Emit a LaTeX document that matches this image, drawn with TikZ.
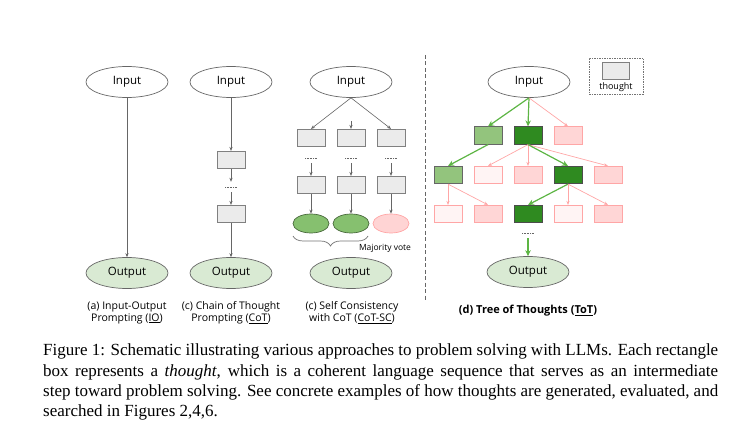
\documentclass[tikz,border=0pt]{standalone}
\usepackage{fontspec}
\setmainfont{Liberation Serif}
\newfontfamily\diagfont{Open Sans}
\usetikzlibrary{shapes.geometric,decorations.pathreplacing,arrows.meta}
\definecolor{boxgray}{HTML}{EBEBEB}
\definecolor{outgreen}{HTML}{D9EAD3}
\definecolor{votegreen}{HTML}{86C06F}
\definecolor{votepink}{HTML}{FFD4D4}
\definecolor{lightleaf}{HTML}{93C47D}
\definecolor{darkleaf}{HTML}{2F8A20}
\definecolor{pinkfill}{HTML}{FFD6D6}
\definecolor{palefill}{HTML}{FFF4F4}
\definecolor{pinkline}{HTML}{FFA6A6}
\definecolor{greenline}{HTML}{5DB544}
\begin{document}
\begin{tikzpicture}[x=1pt,y=-1pt,font=\diagfont,>={Stealth[length=4pt,width=3.2pt]},
    io/.style={ellipse,draw=black!60,line width=0.7pt,minimum width=82pt,minimum height=31pt,inner sep=0pt,font=\diagfont\fontsize{11.5}{13}\selectfont},
    inbox/.style={io,fill=white},
    outbox/.style={io,fill=outgreen},
    thought/.style={rectangle,draw=black!50,fill=boxgray,line width=0.7pt,minimum width=28pt,minimum height=17.5pt,inner sep=0pt},
    goodbox/.style={thought,fill=lightleaf,draw=black!60},
    bestbox/.style={thought,fill=darkleaf,draw=black!70},
    badbox/.style={thought,fill=pinkfill,draw=pinkline},
    palebox/.style={thought,fill=palefill,draw=pinkline},
    vote/.style={ellipse,line width=0.7pt,minimum width=36pt,minimum height=19pt,inner sep=0pt},
    skipdots/.style={inner sep=0pt,minimum width=12pt,minimum height=10pt,fill=white,
      path picture={\draw[black!60,line width=0.4pt,dash pattern=on 1pt off 0.6pt] (path picture bounding box.west) -- (path picture bounding box.east);}},
    garrow/.style={->,draw=black!60,line width=0.6pt},
    okarrow/.style={-{Stealth[length=6pt,width=5.5pt]},draw=greenline,line width=1.2pt},
    badarrow/.style={->,draw=pinkline,line width=0.7pt},
    subcap/.style={align=center,font=\diagfont\fontsize{10.5}{12}\selectfont}]
    \useasboundingbox (0,0) rectangle (732,428);
    % (a) input-output
    \node[inbox] (ina) at (127,82) {Input};
    \node[outbox] (outa) at (127,273) {Output};
    \draw[garrow] (ina) -- (outa);
    \node[subcap] (capa) at (127,312.5) {(a) Input-Output\\Prompting (\underline{IO})};
    % (b) chain of thought
    \node[inbox] (inb) at (231,82) {Input};
    \node[thought] (b1) at (231,160) {};
    \node[skipdots] (bd) at (231,187) {};
    \node[thought] (b2) at (231,214) {};
    \node[outbox] (outb) at (231,273) {Output};
    \draw[garrow] (inb) -- (b1);
    \draw[garrow] (b1) -- (bd);
    \draw[garrow] (bd) -- (b2);
    \draw[garrow] (b2) -- (outb);
    \node[subcap] (capb) at (231,312.5) {(c) Chain of Thought\\Prompting (\underline{CoT})};
    % (c) self consistency
    \node[inbox] (inc) at (351,82) {Input};
    \foreach \x [count=\i] in {311,351,391} {
      \node[thought] (c1\i) at (\x,138) {};
      \node[skipdots] (cd\i) at (\x,158) {};
      \node[thought] (c2\i) at (\x,185) {};
      \draw[garrow] (cd\i) -- (c2\i);
    }
    \node[vote,fill=votegreen,draw=black!45!votegreen] (v1) at (311,223.5) {};
    \node[vote,fill=votegreen,draw=black!45!votegreen] (v2) at (351,223.5) {};
    \node[vote,fill=votepink,draw=pinkline] (v3) at (391,223.5) {};
    \coordinate (cmid) at (351,121);
    \draw[garrow] (inc.south) -- (c11.north);
    \draw[garrow] (cmid) -- (c12.north);
    \draw[garrow] (inc.south) -- (c13.north);
    \foreach \i in {1,2,3}
      \draw[garrow] (c2\i) -- (v\i);
    \coordinate (bl) at (293,236);
    \coordinate (br) at (368,236);
    \draw[black!55,line width=0.7pt,decorate,decoration={brace,mirror,amplitude=10pt}] (bl) -- (br);
    \node[font=\diagfont\fontsize{8.5}{9}\selectfont] (mv) at (385,248) {Majority vote};
    \node[outbox] (outc) at (351,273) {Output};
    \node[subcap] (capc) at (352,312.5) {(c) Self Consistency\\with CoT (\underline{CoT-SC})};
    % divider
    \coordinate (dtop) at (425,55);
    \coordinate (dbot) at (425,300);
    \draw[black!60,line width=1pt,dash pattern=on 4pt off 2.5pt] (dtop) -- (dbot);
    % (d) tree of thoughts
    \node[inbox] (tin) at (529,82) {Input};
    \foreach \x/\s [count=\i] in {488/goodbox,528/bestbox,568/badbox}
      \node[\s] (t1\i) at (\x,135.5) {};
    \foreach \x/\s [count=\i] in {448/goodbox,488/palebox,528/badbox,568/bestbox,608/badbox}
      \node[\s] (t2\i) at (\x,175) {};
    \foreach \x/\s [count=\i] in {448/palebox,488/badbox,528/bestbox,568/palebox,608/badbox}
      \node[\s] (t3\i) at (\x,214) {};
    \draw[okarrow] (tin.south) -- (t11.north);
    \draw[okarrow] (tin.south) -- (t12.north);
    \draw[badarrow] (tin.south) -- (t13.north);
    \draw[okarrow] (t11.south) -- (t21.north);
    \foreach \j in {2,3,5}
      \draw[badarrow] (t12.south) -- (t2\j.north);
    \draw[okarrow] (t12.south) -- (t24.north);
    \foreach \j in {1,2}
      \draw[badarrow] (t21.south) -- (t3\j.north);
    \draw[okarrow] (t24.south) -- (t33.north);
    \foreach \j in {4,5}
      \draw[badarrow] (t24.south) -- (t3\j.north);
    \node[skipdots] (td) at (528,233) {};
    \node[outbox] (tout) at (528,272) {Output};
    \draw[okarrow] (td) -- (tout);
    \node[font=\diagfont\bfseries\fontsize{11}{12}\selectfont] (capd) at (528,311) {(d) Tree of Thoughts (\underline{ToT})};
    % legend
    \node[draw=black!55,dash pattern=on 1.5pt off 1pt,line width=0.7pt,minimum width=54pt,minimum height=36pt,inner sep=0pt] (key) at (616,76) {};
    \node[thought,minimum width=27pt,minimum height=17pt] (keybox) at (615.5,71) {};
    \node[font=\diagfont\fontsize{9}{10}\selectfont,inner sep=0pt] (keytxt) at (616,87) {thought};
    % caption
    \node[anchor=north west,text width=675pt,align=justify,inner sep=0pt,font=\rmfamily\fontsize{17}{20.3}\selectfont] (caption) at (43,344)
      {Figure 1: Schematic illustrating various approaches to problem solving with LLMs. Each rectangle\linebreak
       box represents a \textit{thought}, which is a coherent language sequence that serves as an intermediate\linebreak
       step toward problem solving. See concrete examples of how thoughts are generated, evaluated, and\linebreak
       searched in Figures 2,4,6.};
\end{tikzpicture}
\end{document}
